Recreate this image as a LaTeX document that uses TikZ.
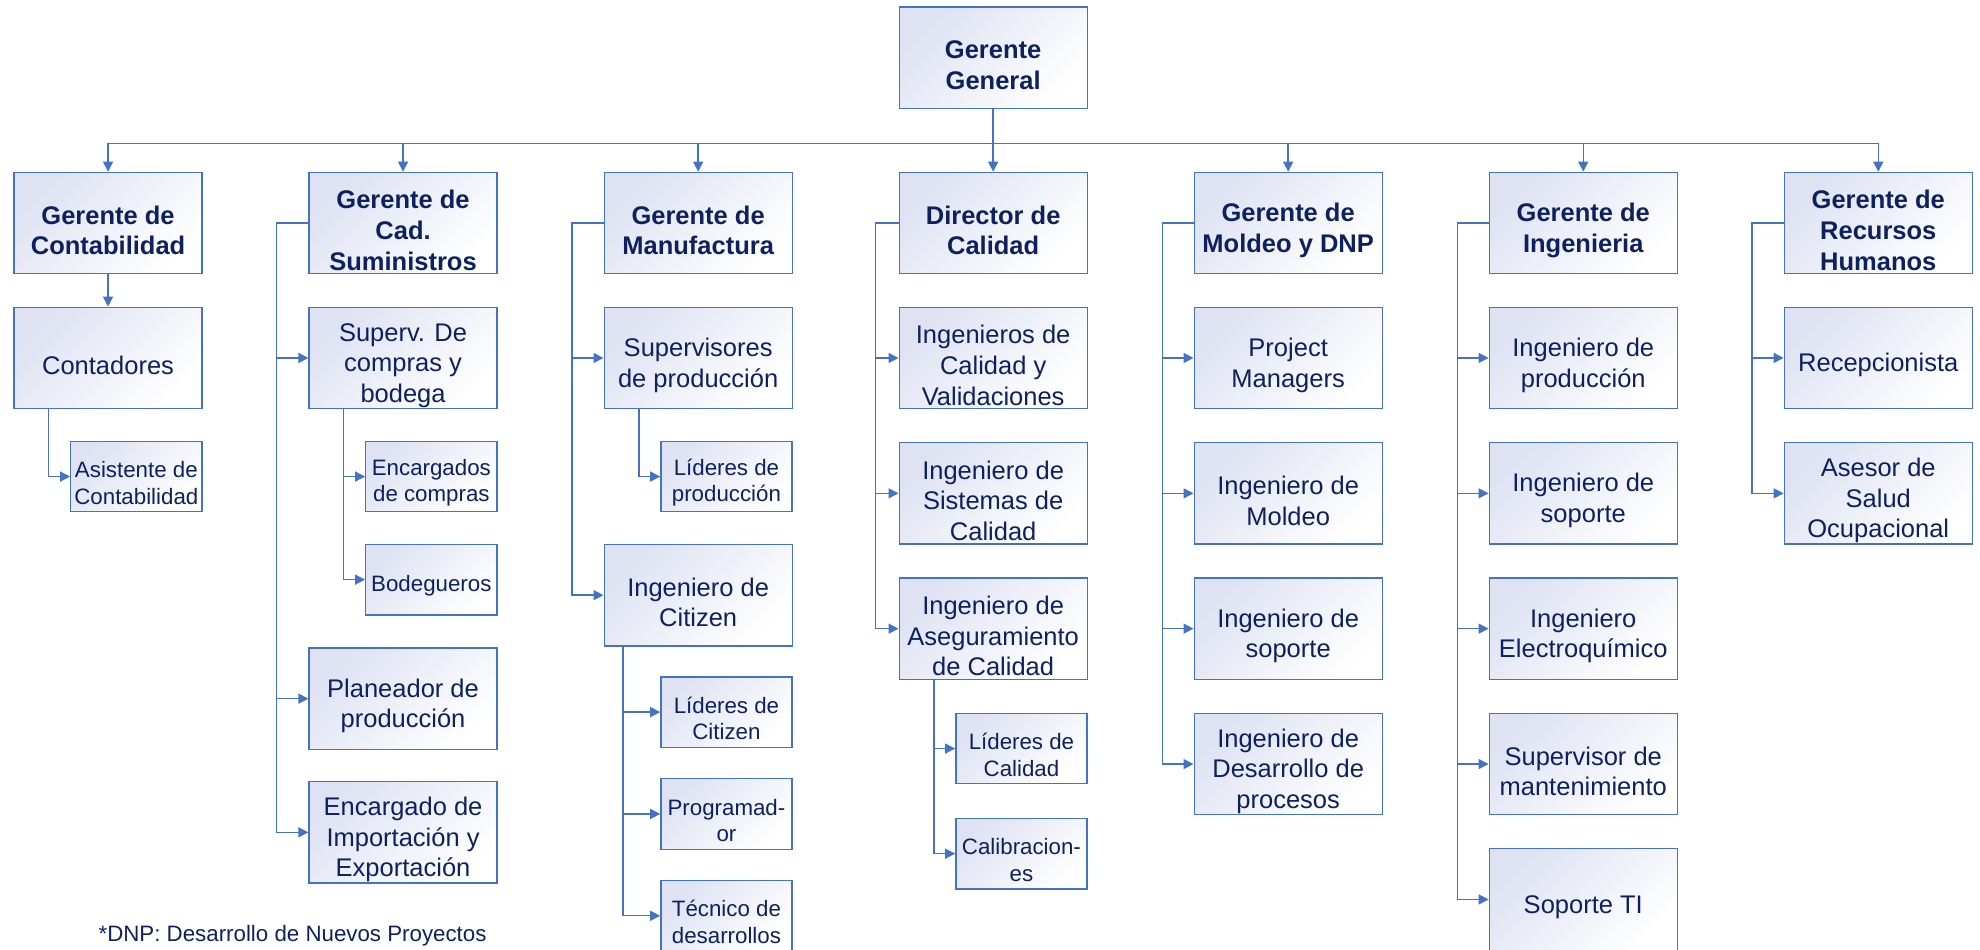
\documentclass[tikz,border=0pt]{standalone}
\usepackage{fontspec}
\setmainfont{Liberation Sans}
\usetikzlibrary{arrows.meta}
\definecolor{linkblue}{RGB}{68,114,196}
\definecolor{inkblue}{RGB}{13,33,95}
\definecolor{lavender}{RGB}{222,226,242}
% invisible strut that sets the text block a little below the box centre
\newcommand\cardstrut{\rule{0pt}{1.3em}}

\begin{document}
\begin{tikzpicture}[x=0.5pt, y=-0.5pt,
  card/.style={draw=linkblue, line width=0.65pt, top color=lavender, bottom color=white,
    shading angle=45, text=inkblue, align=center, inner sep=0pt, anchor=north west},
  bigcard/.style={card, minimum width=94pt, minimum height=50.7pt,
    font=\fontsize{12.75}{15.3}\selectfont},
  headcard/.style={bigcard, font=\bfseries\fontsize{12.75}{15.3}\selectfont},
  smallcard/.style={card, minimum width=65.6pt, minimum height=35.2pt,
    font=\fontsize{11.15}{13.25}\selectfont},
  link/.style={draw=linkblue, line width=0.7pt},
  linkarrow/.style={link, -{Triangle[length=5pt,width=5pt]}},
]
\useasboundingbox (0,0) rectangle (1980,949);

% top of the chart
\node[headcard] (gg) at (898.5,6.3) {\cardstrut Gerente\\General};

% department heads
\node[headcard] (contab)  at (13.4,171.7)   {\cardstrut Gerente de\\Contabilidad};
\node[headcard] (cadsum)  at (308.4,171.7)  {\cardstrut Gerente de\\Cad.\\Suministros};
\node[headcard] (manuf)   at (603.5,171.7)  {\cardstrut Gerente de\\Manufactura};
\node[headcard] (calidad) at (898.5,171.7)  {\cardstrut Director de\\Calidad};
\node[headcard] (moldeo)  at (1193.5,171.7) {\cardstrut Gerente de\\Moldeo y DNP};
\node[headcard] (ingen)   at (1488.6,171.7) {\cardstrut Gerente de\\Ingenieria};
\node[headcard] (rrhh)    at (1783.6,171.7) {\cardstrut Gerente de\\Recursos\\Humanos};

% Contabilidad
\node[bigcard]   (contadores) at (13.4,306.6) {\cardstrut Contadores};
\node[smallcard] (asistente)  at (70.1,440.7) {\cardstrut Asistente de\\Contabilidad};

% Cadena de suministros
\node[bigcard]   (supcompras)  at (308.4,306.6) {\cardstrut Superv. De\\compras y\\bodega};
\node[smallcard] (encargados)  at (365.1,440.7) {\cardstrut Encargados\\de compras};
\node[smallcard] (bodegueros)  at (365.1,543.8) {\cardstrut Bodegueros};
\node[bigcard]   (planeador)   at (308.4,647.3) {\cardstrut Planeador de\\producción};
\node[bigcard]   (importacion) at (308.4,781.0) {\cardstrut Encargado de\\Importación y\\Exportación};

% Manufactura
\node[bigcard]   (supprod)     at (603.5,306.6) {\cardstrut Supervisores\\de producción};
\node[smallcard] (lidprod)     at (660.2,440.7) {\cardstrut Líderes de\\producción};
\node[bigcard]   (citizen)     at (603.5,543.8) {\cardstrut Ingeniero de\\Citizen};
\node[smallcard] (lidcitizen)  at (660.2,676.2) {\cardstrut Líderes de\\Citizen};
\node[smallcard] (programador) at (660.2,778.1) {\cardstrut Programad-\\or};
\node[smallcard] (tecnico)     at (660.2,879.9) {\cardstrut Técnico de\\desarrollos};

% Calidad
\node[bigcard]   (ingcalval) at (898.5,306.6) {\cardstrut Ingenieros de\\Calidad y\\Validaciones};
\node[bigcard]   (ingsist)   at (898.5,442.0) {\cardstrut Ingeniero de\\Sistemas de\\Calidad};
\node[bigcard]   (ingaseg)   at (898.5,577.3) {\cardstrut Ingeniero de\\Aseguramiento\\de Calidad};
\node[smallcard] (lidcal)    at (955.2,712.7) {\cardstrut Líderes de\\Calidad};
\node[smallcard] (calib)     at (955.2,817.8) {\cardstrut Calibracion-\\es};

% Moldeo y DNP
\node[bigcard] (pm)         at (1193.5,306.6) {\cardstrut Project\\Managers};
\node[bigcard] (ingmoldeo)  at (1193.5,442.0) {\cardstrut Ingeniero de\\Moldeo};
\node[bigcard] (sopmoldeo)  at (1193.5,577.3) {\cardstrut Ingeniero de\\soporte};
\node[bigcard] (desarrollo) at (1193.5,712.7) {\cardstrut Ingeniero de\\Desarrollo de\\procesos};

% Ingenieria
\node[bigcard] (ingprod)   at (1488.6,306.6) {\cardstrut Ingeniero de\\producción};
\node[bigcard] (ingsop)    at (1488.6,442.0) {\cardstrut Ingeniero de\\soporte};
\node[bigcard] (electro)   at (1488.6,577.3) {\cardstrut Ingeniero\\Electroquímico};
\node[bigcard] (mant)      at (1488.6,712.7) {\cardstrut Supervisor de\\mantenimiento};
\node[bigcard] (soporteti) at (1488.6,848.1) {\cardstrut Soporte TI};

% Recursos Humanos
\node[bigcard] (recep)  at (1783.6,306.6) {\cardstrut Recepcionista};
\node[bigcard] (asesor) at (1783.6,442.0) {\cardstrut Asesor de\\Salud\\Ocupacional};

% footnote
\node[anchor=base west, inner sep=0pt, text=inkblue, font=\fontsize{11.15}{13.25}\selectfont]
  (nota) at (98.2,941.6) {*DNP: Desarrollo de Nuevos Proyectos};

% connectors: general manager to department heads
\draw[link] (gg.south) -- ++(0,34.4) coordinate (busmid);
\draw[link] (contab.north |- busmid) -- (rrhh.north |- busmid);
\foreach \h in {contab,cadsum,manuf,calidad,moldeo,ingen,rrhh}
  \draw[linkarrow] (\h.north |- busmid) -- (\h.north);

% Contabilidad
\draw[linkarrow] (contab.south) -- (contadores.north);
\draw[linkarrow] (contadores.south west) ++(35.3,0) |- (asistente.west);

% Cadena de suministros
\foreach \c in {supcompras,planeador,importacion}
  \draw[linkarrow] (cadsum.west) -- ++(-31.7,0) |- (\c.west);
\foreach \c in {encargados,bodegueros}
  \draw[linkarrow] (supcompras.south west) ++(35.3,0) |- (\c.west);

% Manufactura
\foreach \c in {supprod,citizen}
  \draw[linkarrow] (manuf.west) -- ++(-31.7,0) |- (\c.west);
\draw[linkarrow] (supprod.south west) ++(35.3,0) |- (lidprod.west);
\foreach \c in {lidcitizen,programador,tecnico}
  \draw[linkarrow] (citizen.south west) ++(19.6,0) |- (\c.west);

% Calidad
\foreach \c in {ingcalval,ingsist,ingaseg}
  \draw[linkarrow] (calidad.west) -- ++(-22.8,0) |- (\c.west);
\foreach \c in {lidcal,calib}
  \draw[linkarrow] (ingaseg.south west) ++(35.3,0) |- (\c.west);

% Moldeo y DNP
\foreach \c in {pm,ingmoldeo,sopmoldeo,desarrollo}
  \draw[linkarrow] (moldeo.west) -- ++(-30.8,0) |- (\c.west);

% Ingenieria
\foreach \c in {ingprod,ingsop,electro,mant,soporteti}
  \draw[linkarrow] (ingen.west) -- ++(-31.3,0) |- (\c.west);

% Recursos Humanos
\foreach \c in {recep,asesor}
  \draw[linkarrow] (rrhh.west) -- ++(-31.7,0) |- (\c.west);
\end{tikzpicture}
\end{document}
